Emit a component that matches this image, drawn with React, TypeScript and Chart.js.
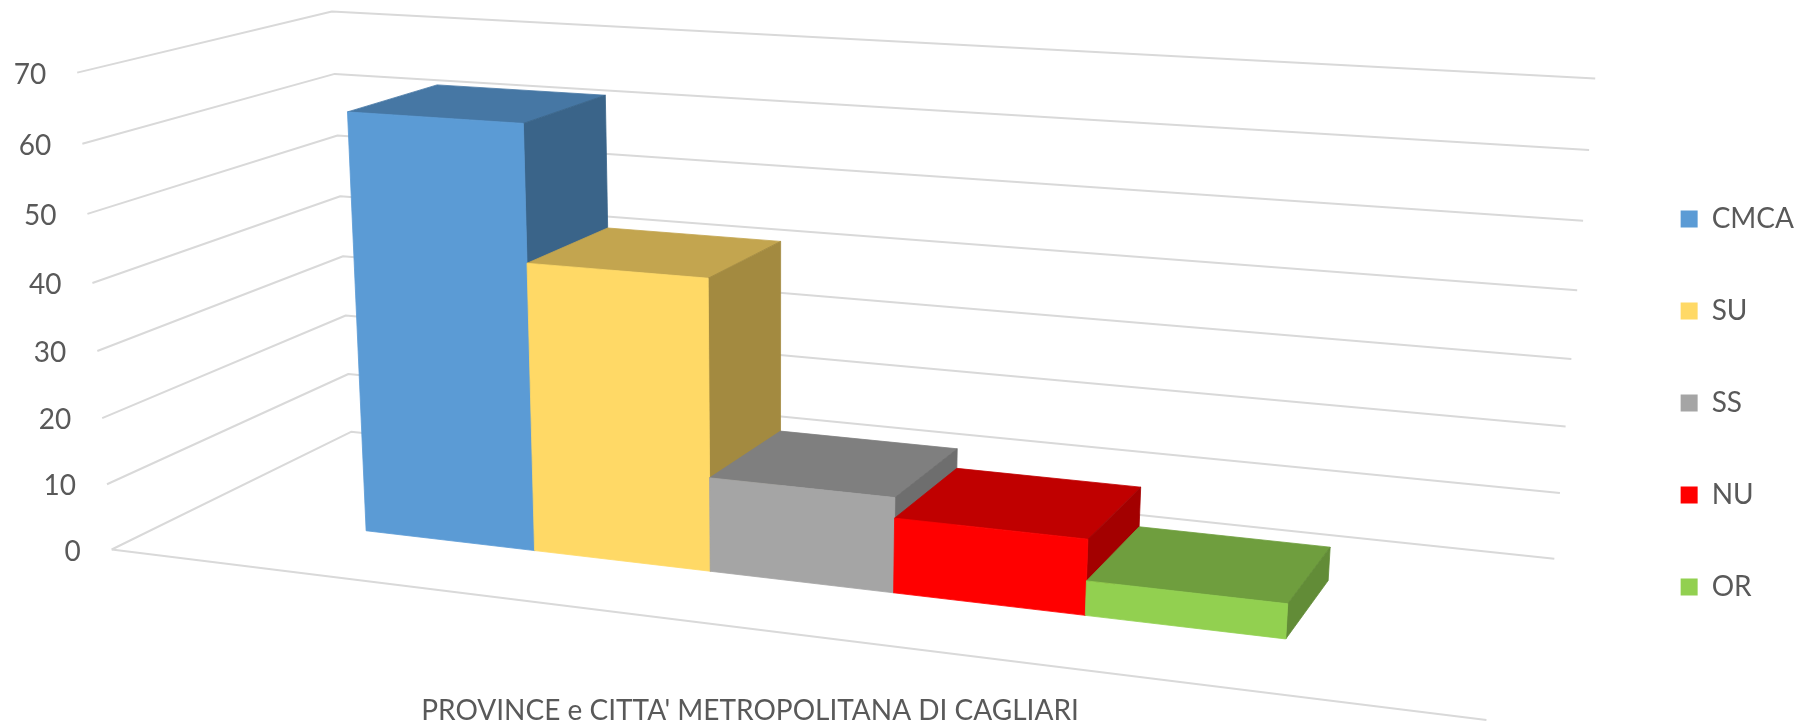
import React, { useEffect, useRef } from 'react';
import { Chart, registerables } from 'chart.js';

Chart.register(...registerables);

// ---------- data ----------
const CATEGORIES = ["PROVINCE e CITTA' METROPOLITANA DI CAGLIARI"];
const SERIES = ['CMCA', 'SU', 'SS', 'NU', 'OR'];
const CMCA_VALUES = [63];
const SU_VALUES = [43];
const SS_VALUES = [14];
const NU_VALUES = [11];
const OR_VALUES = [5];
const SERIES_VALUES = [CMCA_VALUES, SU_VALUES, SS_VALUES, NU_VALUES, OR_VALUES];
const Y_TICKS = [0, 10, 20, 30, 40, 50, 60, 70];

// ---------- style ----------
const FRONT_COLORS = ['#5B9BD5', '#FFD966', '#A5A5A5', '#FF0000', '#92D050'];
const TOP_COLORS = ['#4677A4', '#C3A54F', '#7F7F7F', '#C00000', '#6F9E3E'];
const SIDE_COLORS = ['#3A6489', '#A38A40', '#6E6E6E', '#A30000', '#628C37'];
const TEXT_COLOR = '#595959';
const GRID_COLOR = '#D9D9D9';
const FONT_FAMILY = 'Lato, "Open Sans", sans-serif';

// perspective camera (homogeneous vanishing-point model)
const CAM = {
  kx: -0.1508,
  ky: -0.04945,
  kz: 0.1418,
  vpx: [-7630, -410],
  vpy: [775, 9716],
  vpz: [2039, -398],
};
const BAR_DEPTH_FRONT = 0.305;
const BAR_DEPTH_BACK = 0.69;
const WALL_END = 0.992;
const Y_LABEL_GAP = 31;
const CATEGORY_LABEL_SHIFT = 7;

type Pt = [number, number];

function makeProjector(ca: { left: number; bottom: number }) {
  return (xf: number, yf: number, zf: number): Pt => {
    const a = CAM.kx * xf;
    const b = CAM.ky * yf;
    const c = CAM.kz * zf;
    const w = 1 + a + b + c;
    return [
      (a * CAM.vpx[0] + b * CAM.vpy[0] + c * CAM.vpz[0] + ca.left) / w,
      (a * CAM.vpx[1] + b * CAM.vpy[1] + c * CAM.vpz[1] + ca.bottom) / w,
    ];
  };
}

function poly(ctx: CanvasRenderingContext2D, pts: Pt[], color: string) {
  ctx.beginPath();
  ctx.moveTo(pts[0][0], pts[0][1]);
  for (let i = 1; i < pts.length; i++) ctx.lineTo(pts[i][0], pts[i][1]);
  ctx.closePath();
  ctx.fillStyle = color;
  ctx.strokeStyle = color;
  ctx.lineWidth = 0.8;
  ctx.fill();
  ctx.stroke();
}

const bars3d = {
  id: 'bars3d',
  beforeDatasetsDraw(chart: any) {
    const { ctx, chartArea: ca } = chart;
    const proj = makeProjector(ca);
    const yScale = chart.scales.y;
    const yf = (px: number) => (ca.bottom - px) / ca.height;
    const xf = (px: number) => (px - ca.left) / ca.width;

    ctx.save();
    // walls gridlines (side wall + back wall) and value labels on the wall's front edge
    ctx.lineJoin = 'round';
    ctx.font = `28px ${FONT_FAMILY}`;
    ctx.textAlign = 'right';
    ctx.textBaseline = 'middle';
    yScale.ticks.forEach((t: any) => {
      const f = yf(yScale.getPixelForValue(t.value));
      const p0 = proj(0, f, 0);
      const p1 = proj(0, f, 1);
      const p2 = proj(WALL_END, f, 1);
      ctx.strokeStyle = GRID_COLOR;
      ctx.lineWidth = 2;
      ctx.beginPath();
      ctx.moveTo(p0[0], p0[1]);
      ctx.lineTo(p1[0], p1[1]);
      ctx.lineTo(p2[0], p2[1]);
      ctx.stroke();
      ctx.fillStyle = TEXT_COLOR;
      ctx.fillText(String(t.label), p0[0] - Y_LABEL_GAP, p0[1] + 2);
    });
    // category axis line (floor front edge)
    const f0 = proj(0, 0, 0);
    const f1 = proj(1, 0, 0);
    ctx.strokeStyle = GRID_COLOR;
    ctx.lineWidth = 2;
    ctx.beginPath();
    ctx.moveTo(f0[0], f0[1]);
    ctx.lineTo(f1[0], f1[1]);
    ctx.stroke();

    // 3D bars, left to right
    chart.data.datasets.forEach((ds: any, i: number) => {
      if (!chart.isDatasetVisible(i)) return;
      const meta = chart.getDatasetMeta(i);
      meta.data.forEach((el: any) => {
        const x0 = xf(el.x - el.width / 2);
        const x1 = xf(el.x + el.width / 2);
        const top = yf(el.y);
        const base = yf(el.base);
        const z0 = BAR_DEPTH_FRONT;
        const z1 = BAR_DEPTH_BACK;
        // top face
        poly(ctx, [proj(x0, top, z0), proj(x1, top, z0), proj(x1, top, z1), proj(x0, top, z1)], TOP_COLORS[i]);
        // right side face
        poly(ctx, [proj(x1, base, z0), proj(x1, top, z0), proj(x1, top, z1), proj(x1, base, z1)], SIDE_COLORS[i]);
        // front face
        poly(ctx, [proj(x0, base, z0), proj(x1, base, z0), proj(x1, top, z0), proj(x0, top, z0)], FRONT_COLORS[i]);
      });
    });

    // category label under the floor
    const mid = proj(0.5, 0, 0);
    ctx.fillStyle = TEXT_COLOR;
    ctx.font = `28px ${FONT_FAMILY}`;
    ctx.textAlign = 'center';
    ctx.textBaseline = 'alphabetic';
    ctx.fillText(String(chart.data.labels[0]), mid[0] + CATEGORY_LABEL_SHIFT, ca.bottom + 170);
    ctx.restore();
    return false;
  },
};

export default function App() {
  const canvasRef = useRef<HTMLCanvasElement | null>(null);

  useEffect(() => {
    if (!canvasRef.current) return;
    Chart.defaults.font.family = FONT_FAMILY;
    const chart = new Chart(canvasRef.current, {
      type: 'bar',
      data: {
        labels: CATEGORIES,
        datasets: SERIES.map((name, i) => ({
          label: name,
          data: SERIES_VALUES[i],
          backgroundColor: FRONT_COLORS[i],
          borderColor: FRONT_COLORS[i],
          borderWidth: 0,
          categoryPercentage: 0.698,
          barPercentage: 1.0,
        })),
      },
      options: {
        animation: false,
        responsive: false,
        events: [],
        layout: { padding: { top: 72, bottom: 60, left: 0, right: 2 } },
        plugins: {
          legend: {
            position: 'right',
            align: 'end',
            labels: {
              boxWidth: 17,
              boxHeight: 17,
              padding: 64,
              color: TEXT_COLOR,
              font: { family: FONT_FAMILY, size: 28 },
            },
          },
          tooltip: { enabled: false },
          title: { display: false },
        },
        scales: {
          x: {
            display: true,
            grid: { display: false },
            border: { display: false },
            ticks: { display: false },
            afterFit: (scale: any) => {
              scale.height = 115.5;
            },
          },
          y: {
            min: Y_TICKS[0],
            max: Y_TICKS[Y_TICKS.length - 1],
            grid: { display: false },
            border: { display: false },
            ticks: {
              display: false,
              stepSize: Y_TICKS[1] - Y_TICKS[0],
              font: { family: FONT_FAMILY, size: 28 },
            },
            afterFit: (scale: any) => {
              scale.width = 111.7;
            },
          },
        },
      },
      plugins: [bars3d],
    });
    return () => chart.destroy();
  }, []);

  return (
    <div style={{ position: 'absolute', left: 0, top: 0, width: 1806, height: 725, background: '#fff' }}>
      <canvas ref={canvasRef} width={1806} height={725} style={{ display: 'block' }} />
    </div>
  );
}
